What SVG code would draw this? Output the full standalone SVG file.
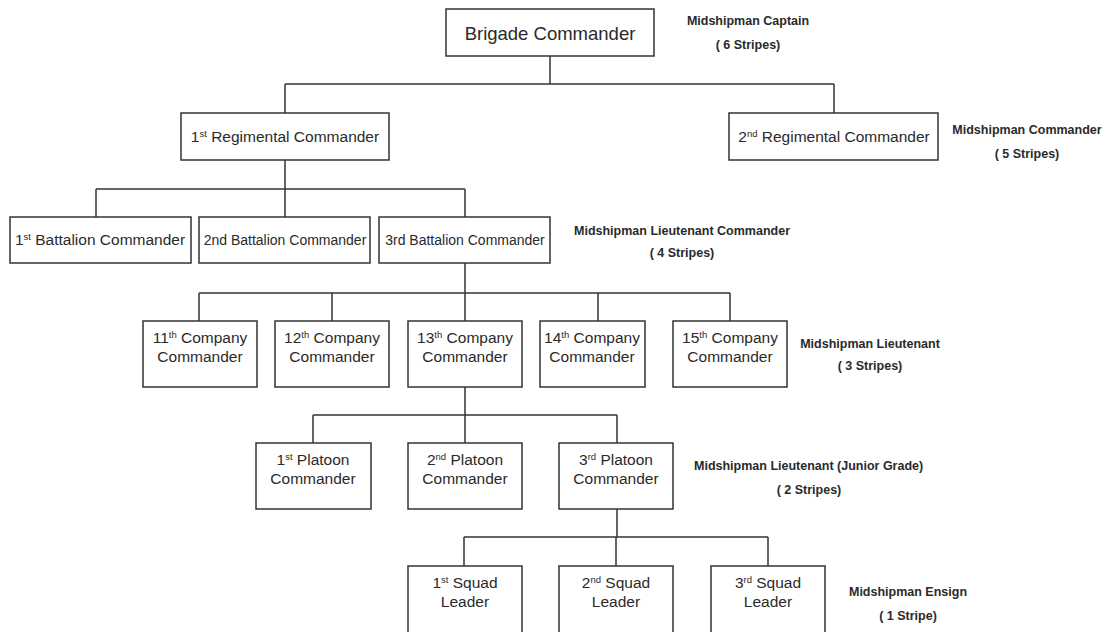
<svg xmlns="http://www.w3.org/2000/svg" width="1106" height="632" viewBox="0 0 1106 632">
<style>
.box{fill:#fff;stroke:#333;stroke-width:1.5}
.t{font-family:"Liberation Sans",Arial,sans-serif;font-size:15.5px;fill:#2a2a2a;text-anchor:middle}
.big{font-size:18.5px}
.sm{font-size:14px}
.lb{font-family:"Liberation Sans",Arial,sans-serif;font-size:12.5px;font-weight:bold;fill:#2a2a2a;text-anchor:middle}
.sup{font-size:9.5px}
#connectors line{stroke:#333;stroke-width:1.5}
</style>
<rect width="1106" height="632" fill="#fff"/>
<g id="connectors">
<line x1="550" y1="56" x2="550" y2="84"/>
<line x1="285" y1="84" x2="834" y2="84"/>
<line x1="285" y1="84" x2="285" y2="113"/>
<line x1="834" y1="84" x2="834" y2="113"/>
<line x1="285" y1="160" x2="285" y2="189"/>
<line x1="96" y1="189" x2="465" y2="189"/>
<line x1="96" y1="189" x2="96" y2="217"/>
<line x1="285" y1="189" x2="285" y2="217"/>
<line x1="465" y1="189" x2="465" y2="217"/>
<line x1="465" y1="263" x2="465" y2="293"/>
<line x1="199" y1="293" x2="730" y2="293"/>
<line x1="199" y1="293" x2="199" y2="321"/>
<line x1="332" y1="293" x2="332" y2="321"/>
<line x1="465" y1="293" x2="465" y2="321"/>
<line x1="598" y1="293" x2="598" y2="321"/>
<line x1="730" y1="293" x2="730" y2="321"/>
<line x1="465" y1="387" x2="465" y2="415"/>
<line x1="313" y1="415" x2="617" y2="415"/>
<line x1="313" y1="415" x2="313" y2="443"/>
<line x1="465" y1="415" x2="465" y2="443"/>
<line x1="617" y1="415" x2="617" y2="443"/>
<line x1="617" y1="509" x2="617" y2="537"/>
<line x1="464" y1="537" x2="768" y2="537"/>
<line x1="464" y1="537" x2="464" y2="566"/>
<line x1="616" y1="537" x2="616" y2="566"/>
<line x1="768" y1="537" x2="768" y2="566"/>
</g>
<g id="brigade"><rect class="box" x="446" y="9" width="208" height="47"/><text class="t big" x="550" y="40">Brigade Commander</text></g>
<g id="reg1"><rect class="box" x="181" y="113" width="208" height="47"/><text class="t" x="285" y="142">1<tspan class="sup" dy="-5">st</tspan><tspan dy="5"> Regimental Commander</tspan></text></g>
<g id="reg2"><rect class="box" x="729" y="113" width="209" height="47"/><text class="t" x="834" y="142">2<tspan class="sup" dy="-5">nd</tspan><tspan dy="5"> Regimental Commander</tspan></text></g>
<g id="bat1"><rect class="box" x="10" y="217" width="181" height="46"/><text class="t" x="100" y="245">1<tspan class="sup" dy="-5">st</tspan><tspan dy="5"> Battalion Commander</tspan></text></g>
<g id="bat2"><rect class="box" x="199" y="217" width="171" height="46"/><text class="t sm" x="285" y="245">2nd Battalion Commander</text></g>
<g id="bat3"><rect class="box" x="379" y="217" width="171" height="46"/><text class="t sm" x="465" y="245">3rd Battalion Commander</text></g>
<g id="co11"><rect class="box" x="143" y="321" width="114" height="66"/><text class="t" x="200" y="343">11<tspan class="sup" dy="-5">th</tspan><tspan dy="5"> Company</tspan></text><text class="t" x="200" y="362">Commander</text></g>
<g id="co12"><rect class="box" x="275" y="321" width="114" height="66"/><text class="t" x="332" y="343">12<tspan class="sup" dy="-5">th</tspan><tspan dy="5"> Company</tspan></text><text class="t" x="332" y="362">Commander</text></g>
<g id="co13"><rect class="box" x="408" y="321" width="114" height="66"/><text class="t" x="465" y="343">13<tspan class="sup" dy="-5">th</tspan><tspan dy="5"> Company</tspan></text><text class="t" x="465" y="362">Commander</text></g>
<g id="co14"><rect class="box" x="540" y="321" width="105" height="66"/><text class="t" x="592" y="343">14<tspan class="sup" dy="-5">th</tspan><tspan dy="5"> Company</tspan></text><text class="t" x="592" y="362">Commander</text></g>
<g id="co15"><rect class="box" x="673" y="321" width="114" height="66"/><text class="t" x="730" y="343">15<tspan class="sup" dy="-5">th</tspan><tspan dy="5"> Company</tspan></text><text class="t" x="730" y="362">Commander</text></g>
<g id="plt1"><rect class="box" x="256" y="443" width="115" height="66"/><text class="t" x="313" y="465">1<tspan class="sup" dy="-5">st</tspan><tspan dy="5"> Platoon</tspan></text><text class="t" x="313" y="484">Commander</text></g>
<g id="plt2"><rect class="box" x="408" y="443" width="114" height="66"/><text class="t" x="465" y="465">2<tspan class="sup" dy="-5">nd</tspan><tspan dy="5"> Platoon</tspan></text><text class="t" x="465" y="484">Commander</text></g>
<g id="plt3"><rect class="box" x="559" y="443" width="114" height="66"/><text class="t" x="616" y="465">3<tspan class="sup" dy="-5">rd</tspan><tspan dy="5"> Platoon</tspan></text><text class="t" x="616" y="484">Commander</text></g>
<g id="sq1"><rect class="box" x="408" y="566" width="114" height="80"/><text class="t" x="465" y="588">1<tspan class="sup" dy="-5">st</tspan><tspan dy="5"> Squad</tspan></text><text class="t" x="465" y="607">Leader</text></g>
<g id="sq2"><rect class="box" x="559" y="566" width="114" height="80"/><text class="t" x="616" y="588">2<tspan class="sup" dy="-5">nd</tspan><tspan dy="5"> Squad</tspan></text><text class="t" x="616" y="607">Leader</text></g>
<g id="sq3"><rect class="box" x="711" y="566" width="114" height="80"/><text class="t" x="768" y="588">3<tspan class="sup" dy="-5">rd</tspan><tspan dy="5"> Squad</tspan></text><text class="t" x="768" y="607">Leader</text></g>
<g id="labels">
<text class="lb" x="748" y="25">Midshipman Captain</text>
<text class="lb" x="748" y="49">( 6 Stripes)</text>
<text class="lb" x="1027" y="134">Midshipman Commander</text>
<text class="lb" x="1027" y="158">( 5 Stripes)</text>
<text class="lb" x="682" y="235">Midshipman Lieutenant Commander</text>
<text class="lb" x="682" y="257">( 4 Stripes)</text>
<text class="lb" x="870" y="348">Midshipman Lieutenant</text>
<text class="lb" x="870" y="370">( 3 Stripes)</text>
<text class="lb" x="694" y="470" style="text-anchor:start">Midshipman Lieutenant (Junior Grade)</text>
<text class="lb" x="809" y="494">( 2 Stripes)</text>
<text class="lb" x="908" y="596">Midshipman Ensign</text>
<text class="lb" x="908" y="620">( 1 Stripe)</text>
</g>
</svg>
